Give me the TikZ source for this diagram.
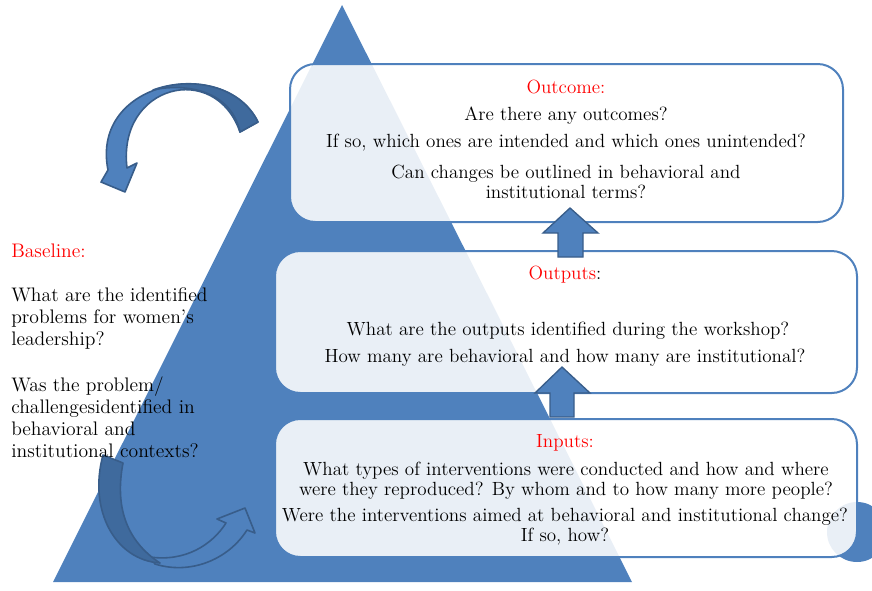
\documentclass[tikz,border=0pt]{standalone}
\usepackage{fontspec}
\definecolor{triblue}{HTML}{4F81BD}
\definecolor{arrowline}{HTML}{385D8A}
\definecolor{backblue}{HTML}{3F6A9D}
\begin{document}
\begin{tikzpicture}[x=0.75pt,y=-0.75pt,
    every node/.style={font=\fontsize{14.3}{15}\selectfont, inner sep=0pt},
    box/.style={draw=triblue, line width=1.5pt, fill=white, fill opacity=0.88, rounded corners=19pt},
    blockarrow/.style={fill=triblue, draw=arrowline, line width=1pt},
    curvefront/.style={fill=triblue, draw=arrowline, line width=1.2pt, line join=round},
    curveback/.style={fill=backblue, draw=arrowline, line width=1.2pt, line join=round},
    qtext/.style={align=center},
    btext/.style={align=left, anchor=west, font=\fontsize{14.7}{16.5}\selectfont}]
        \useasboundingbox (0,0) rectangle (872,590);
        \clip (0,0) rectangle (872,590);
        
        \coordinate (T1) at (53,582);
        \coordinate (T2) at (632,582);
        \coordinate (T3) at (342,5);
        \coordinate (R11) at (290,64);
        \coordinate (R12) at (843,222);
        \coordinate (R21) at (275,251);
        \coordinate (R22) at (857,393);
        \coordinate (R31) at (275,419);
        \coordinate (R32) at (857,557);
        \coordinate (A1) at (570,208);
        \coordinate (A2) at (562,367);
        \coordinate (C1) at (857,532);
        
        
        \fill[triblue] (T1) -- (T2) -- (T3) -- cycle;
        \fill[triblue] (C1) circle (30);
        
        
        \draw[curvefront] (240,132) -- (258,122) .. controls (225,55) and (90,80) .. (108,170) -- (101,182) -- (125,192) -- (137,163) -- (127,168) .. controls (117,85) and (215,60) .. (240,132) -- cycle;
        \draw[curveback] (240,132) -- (258,122) .. controls (240,85) and (191,76) .. (153,90) .. controls (178,84) and (230,86) .. (240,132) -- cycle;
        
        \draw[curvefront] (150,557) .. controls (185,562) and (212,545) .. (226,523) -- (217,519) -- (245,508) -- (255,533) -- (247,530) .. controls (228,560) and (190,575) .. (155,564) -- cycle;
        \draw[curveback] (103,455) -- (123,463) .. controls (115,505) and (125,540) .. (160,563) .. controls (115,560) and (88,510) .. (103,455) -- cycle;
        
        
        \draw[box] (R11) rectangle (R12);
        \draw[box] (R21) rectangle (R22);
        \draw[box] (R31) rectangle (R32);
        
        
        \draw[blockarrow] (A1) -- ++(28,25) -- ++(-15,0) -- ++(0,24) -- ++(-25,0) -- ++(0,-24) -- ++(-15,0) -- cycle;
        \draw[blockarrow] (A2) -- ++(28,26) -- ++(-16,0) -- ++(0,24) -- ++(-24,0) -- ++(0,-24) -- ++(-15,0) -- cycle;
        
        
        \node[text=red] (N11) at (566,87) {Outcome:};
        \node (N12) at (566,116) {Are there any outcomes?};
        \node (N13) at (566,143) {If so, which ones are intended and which ones unintended?};
        \node[qtext] (N14) at (566,182) {Can changes be outlined in behavioral and\\institutional terms?};
        
        \node (N21) at (565,275) {\textcolor{red}{Outputs}:};
        \node (N22) at (568,331) {What are the outputs identified during the workshop?};
        \node (N23) at (565,358) {How many are behavioral and how many are institutional?};
        
        \node[text=red] (N31) at (565,443) {Inputs:};
        \node[qtext] (N32) at (566,481) {What types of interventions were conducted and how and where\\were they reproduced? By whom and to how many more people?};
        \node[qtext] (N33) at (565,527) {Were the interventions aimed at behavioral and institutional change?\\If so, how?};
        
        \node[btext, text=red] (N01) at (11,251) {Baseline:};
        \node[btext] (N02) at (11,318) {What are the identified\\problems for women's\\leadership?};
        \node[btext] (N03) at (11,417) {Was the problem/\\challengesidentified in\\behavioral and\\institutional contexts?};
    \end{tikzpicture}
\end{document}
